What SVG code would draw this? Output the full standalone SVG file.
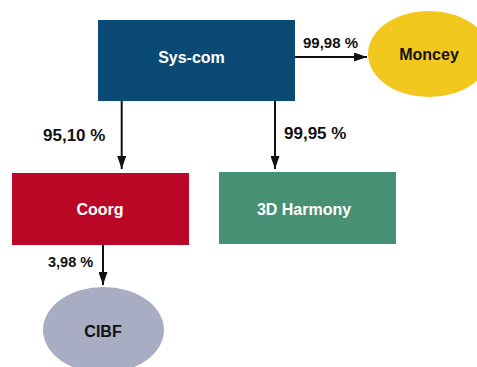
<svg xmlns="http://www.w3.org/2000/svg" width="477" height="367" viewBox="0 0 477 367">
<style>
text{font-family:"Liberation Sans",Arial,sans-serif;font-weight:bold}
.n{font-size:16px;text-anchor:middle}
.w{fill:#ffffff}
.k{fill:#111111}
.p{fill:#111111}
.conn line{stroke:#111111;stroke-width:2}
</style>
<defs>
<marker id="ah" viewBox="0 0 13 9" refX="13" refY="4.5" markerWidth="13" markerHeight="9" markerUnits="userSpaceOnUse" orient="auto">
<path d="M0,0 L13,4.5 L0,9 Z" fill="#111111"/>
</marker>
</defs>
<rect width="477" height="367" fill="#ffffff"/>
<g id="syscom">
<rect x="98" y="20" width="197" height="81" fill="#0a4a75"/>
<text class="n w" x="191.5" y="63">Sys-com</text>
</g>
<g id="moncey">
<ellipse cx="429" cy="54" rx="61" ry="43" fill="#f2c81f"/>
<text class="n k" x="429" y="59.5">Moncey</text>
</g>
<g id="coorg">
<rect x="12" y="173" width="177" height="72" fill="#ba0726"/>
<text class="n w" x="100" y="214.5">Coorg</text>
</g>
<g id="harmony">
<rect x="219" y="172" width="177" height="72" fill="#479073"/>
<text class="n w" x="304" y="214.5">3D Harmony</text>
</g>
<g id="cibf">
<ellipse cx="103.5" cy="330" rx="60.5" ry="43" fill="#a8adc4"/>
<text class="n k" x="103" y="337">CIBF</text>
</g>
<g class="conn" id="connectors">
<line x1="295" y1="57" x2="367" y2="57" marker-end="url(#ah)"/>
<line x1="121.7" y1="101" x2="121.7" y2="169" marker-end="url(#ah)"/>
<line x1="275" y1="101" x2="275" y2="169" marker-end="url(#ah)"/>
<line x1="103" y1="245" x2="103" y2="285" marker-end="url(#ah)"/>
<text class="p" x="303" y="48" font-size="15">99,98 %</text>
<text class="p" x="43" y="141" font-size="17">95,10 %</text>
<text class="p" x="284" y="139" font-size="17">99,95 %</text>
<text class="p" x="48" y="266.5" font-size="14.5">3,98 %</text>
</g>
</svg>
